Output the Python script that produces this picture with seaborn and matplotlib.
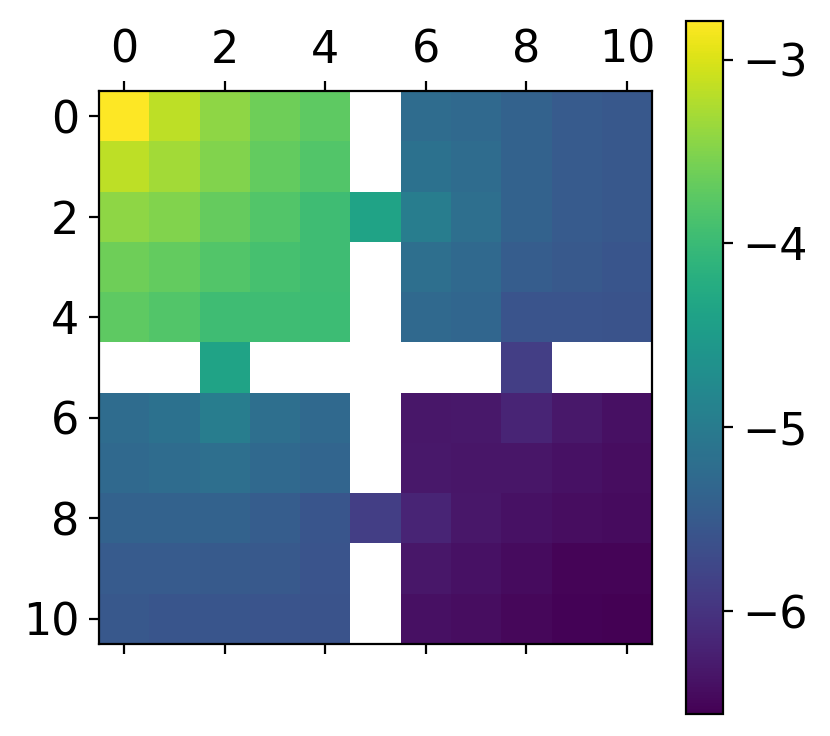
import numpy as np
import matplotlib
matplotlib.use("Agg")
import matplotlib.pyplot as plt
from matplotlib.ticker import MultipleLocator
import seaborn as sns

# matrix values (nan = blank cell)
nan = np.nan
cells = [
    [-2.79, -3.17, -3.43, -3.62, -3.73, nan, -5.24, -5.28, -5.39, -5.49, -5.54],
    [-3.17, -3.32, -3.51, -3.69, -3.81, nan, -5.16, -5.24, -5.39, -5.49, -5.54],
    [-3.43, -3.51, -3.68, -3.81, -3.96, -4.37, -4.98, -5.20, -5.39, -5.49, -5.54],
    [-3.62, -3.69, -3.81, -3.90, -3.96, nan, -5.20, -5.28, -5.47, -5.52, -5.56],
    [-3.73, -3.81, -3.96, -3.96, -3.97, nan, -5.28, -5.33, -5.58, -5.58, -5.60],
    [nan, nan, -4.37, nan, nan, nan, nan, nan, -5.88, nan, nan],
    [-5.24, -5.16, -4.98, -5.20, -5.28, nan, -6.33, -6.31, -6.18, -6.32, -6.41],
    [-5.28, -5.24, -5.20, -5.28, -5.35, nan, -6.31, -6.35, -6.35, -6.39, -6.43],
    [-5.39, -5.39, -5.39, -5.47, -5.56, -5.88, -6.18, -6.33, -6.39, -6.43, -6.45],
    [-5.49, -5.49, -5.50, -5.52, -5.58, nan, -6.33, -6.39, -6.45, -6.52, -6.53],
    [-5.54, -5.56, -5.56, -5.58, -5.60, nan, -6.41, -6.44, -6.50, -6.54, -6.56],
]
tick_labels = ["0", "2", "4", "6", "8", "10"]

data = np.array(cells, dtype=float)
fs = 16

fig = plt.figure(figsize=(4.15, 3.68), dpi=200)
ax = fig.add_axes([0.118, 0.125, 0.669, 0.7514])
cax = fig.add_axes([0.8265, 0.0299, 0.0446, 0.9416])

sns.heatmap(data, ax=ax, cbar_ax=cax, cmap="viridis", square=True,
            linewidths=0, xticklabels=False, yticklabels=False)

# matshow-like ticks: labels on top, ticks on both sides
pos = np.arange(0, 11, 2) + 0.5
ax.set_xticks(pos)
ax.set_xticklabels(tick_labels, fontsize=fs)
ax.set_yticks(pos)
ax.set_yticklabels(tick_labels, rotation=0, fontsize=fs)
ax.tick_params(axis="x", top=True, bottom=True, labeltop=True, labelbottom=False,
               length=3.5, width=0.8)
ax.tick_params(axis="y", left=True, length=3.5, width=0.8)
for s in ax.spines.values():
    s.set_visible(True)
    s.set_linewidth(0.8)

cbar = ax.collections[0].colorbar
cbar.outline.set_visible(True)
cbar.outline.set_linewidth(0.8)
cbar.locator = MultipleLocator(1)
cbar.update_ticks()
cax.tick_params(length=3.5, width=0.8, labelsize=fs)

fig.savefig("out.png", dpi=200)
